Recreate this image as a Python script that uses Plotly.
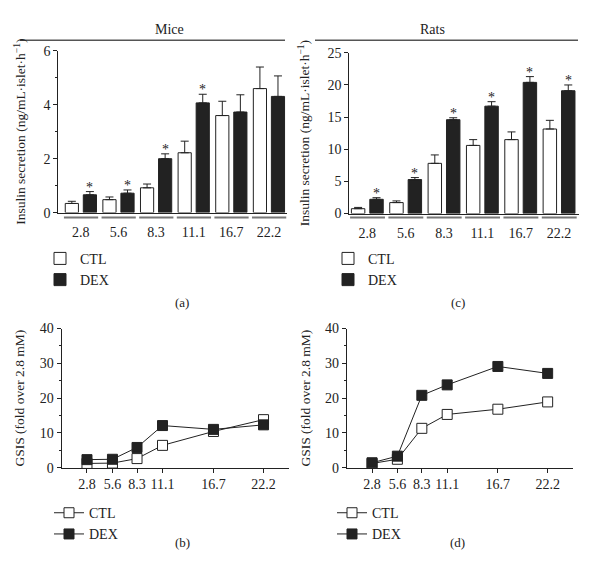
import plotly.graph_objects as go

conc = ["2.8", "5.6", "8.3", "11.1", "16.7", "22.2"]
conc_num = [2.8, 5.6, 8.3, 11.1, 16.7, 22.2]

mice_ctl = [0.34, 0.48, 0.92, 2.22, 3.60, 4.60]
mice_ctl_err = [0.08, 0.10, 0.14, 0.43, 0.53, 0.80]
mice_dex = [0.66, 0.72, 2.00, 4.07, 3.73, 4.31]
mice_dex_err = [0.12, 0.12, 0.18, 0.32, 0.64, 0.76]
mice_sig = [True, True, True, True, False, False]

rats_ctl = [0.76, 1.71, 7.81, 10.6, 11.5, 13.15]
rats_ctl_err = [0.20, 0.26, 1.31, 0.9, 1.2, 1.35]
rats_dex = [2.22, 5.29, 14.6, 16.7, 20.4, 19.1]
rats_dex_err = [0.25, 0.31, 0.3, 0.7, 0.9, 0.9]
rats_sig = [True, True, True, True, True, True]

gsis_mice_ctl = [1.2, 1.3, 2.6, 6.4, 10.4, 13.8]
gsis_mice_dex = [2.3, 2.4, 5.8, 12.1, 11.0, 12.3]
gsis_rats_ctl = [1.2, 2.4, 11.3, 15.3, 16.8, 18.9]
gsis_rats_dex = [1.4, 3.3, 20.8, 23.8, 29.1, 27.1]

FONT = "Liberation Serif"
INK = "#222222"
W, H = 600, 587


def px_x(p):
    return p / W


def px_y(p):
    return 1 - p / H


fig = go.Figure()

# ---- bar panels ----
bar_panels = [
    ("x", "y", mice_ctl, mice_ctl_err, mice_dex, mice_dex_err, mice_sig, "legend"),
    ("x2", "y2", rats_ctl, rats_ctl_err, rats_dex, rats_dex_err, rats_sig, "legend2"),
]
annotations = []
shapes = []
for xa, ya, ctl, ctle, dex, dexe, sig, lg in bar_panels:
    fig.add_trace(go.Bar(
        x=conc, y=ctl, name="CTL", xaxis=xa, yaxis=ya, legend=lg,
        marker=dict(color="white", line=dict(color=INK, width=1)),
        error_y=dict(type="data", symmetric=False, array=ctle, arrayminus=[0] * 6,
                     color=INK, thickness=1, width=4),
    ))
    fig.add_trace(go.Bar(
        x=conc, y=dex, name="DEX", xaxis=xa, yaxis=ya, legend=lg,
        marker=dict(color=INK, line=dict(color=INK, width=1)),
        error_y=dict(type="data", symmetric=False, array=dexe, arrayminus=[0] * 6,
                     color=INK, thickness=1, width=4),
    ))
    for i, (v, e, s) in enumerate(zip(dex, dexe, sig)):
        if s:
            annotations.append(dict(
                x=i + 0.24, y=v + e, xref=xa, yref=ya, text="*", showarrow=False,
                yanchor="bottom", yshift=-5, font=dict(family=FONT, size=14, color=INK)))
    for i in range(len(conc)):
        shapes.append(dict(type="line", xref=xa, yref="paper", x0=i - 0.45, x1=i + 0.46,
                           y0=px_y(216), y1=px_y(216), line=dict(color="#777777", width=2)))

# ---- line panels ----
line_panels = [
    ("x3", "y3", gsis_mice_ctl, gsis_mice_dex, "legend3"),
    ("x4", "y4", gsis_rats_ctl, gsis_rats_dex, "legend4"),
]
for xa, ya, ctl, dex, lg in line_panels:
    fig.add_trace(go.Scatter(
        x=conc_num, y=ctl, name="CTL", xaxis=xa, yaxis=ya, legend=lg, mode="lines+markers",
        cliponaxis=False,
        line=dict(color=INK, width=1),
        marker=dict(symbol="square", size=10, color="white", line=dict(color=INK, width=1)),
    ))
    fig.add_trace(go.Scatter(
        x=conc_num, y=dex, name="DEX", xaxis=xa, yaxis=ya, legend=lg, mode="lines+markers",
        cliponaxis=False,
        line=dict(color=INK, width=1),
        marker=dict(symbol="square", size=10, color=INK, line=dict(color=INK, width=1)),
    ))

tickfont = dict(family=FONT, size=14, color=INK)
titlefont = dict(family=FONT, size=13.5, color=INK)

bar_y_common = dict(showline=True, linecolor=INK, linewidth=1, ticks="outside", ticklen=4,
                    tickcolor=INK, showgrid=False, zeroline=False, tickfont=tickfont,
                    title=dict(text="Insulin secretion (ng/mL·islet·h<sup>−1</sup>)",
                               font=titlefont, standoff=14))
bar_x_common = dict(type="category", showline=True, linecolor=INK, linewidth=1, ticks="",
                    showgrid=False, tickfont=tickfont, ticklabelstandoff=7)

line_y_common = dict(showline=True, linecolor=INK, linewidth=1, ticks="outside", ticklen=4,
                     tickcolor=INK, showgrid=False, zeroline=False, tickfont=tickfont,
                     range=[0, 40], dtick=10,
                     minor=dict(ticks="outside", ticklen=2, dtick=5, tickcolor=INK),
                     title=dict(text="GSIS (fold over 2.8 mM)", font=titlefont, standoff=11))
line_x_common = dict(showline=True, linecolor=INK, linewidth=1, ticks="outside", ticklen=4,
                     tickcolor=INK, showgrid=False, zeroline=False, tickfont=tickfont,
                     range=[0, 25], tickvals=conc_num, ticktext=conc)

fig.update_layout(
    width=W, height=H, margin=dict(l=0, r=0, t=0, b=0),
    paper_bgcolor="white", plot_bgcolor="white",
    barmode="group", bargap=0.04, bargroupgap=0.27,
    font=dict(family=FONT, color=INK),
    hovermode=False,
    xaxis=dict(domain=[px_x(58.3), px_x(287)], anchor="y", range=[-0.6, 5.48], **bar_x_common),
    yaxis=dict(domain=[px_y(211), px_y(45)], anchor="x", range=[0, 6], dtick=2,
               minor=dict(ticks="outside", ticklen=2, dtick=1, tickcolor=INK), **bar_y_common),
    xaxis2=dict(domain=[px_x(349.3), px_x(579)], anchor="y2", range=[-0.47, 5.52], **bar_x_common),
    yaxis2=dict(domain=[px_y(212), px_y(47)], anchor="x2", range=[0, 25], dtick=5, **bar_y_common),
    xaxis3=dict(domain=[px_x(61.5), px_x(289)], anchor="y3", **line_x_common),
    yaxis3=dict(domain=[px_y(472.7), px_y(330)], anchor="x3", **line_y_common),
    xaxis4=dict(domain=[px_x(346.7), px_x(573)], anchor="y4", **line_x_common),
    yaxis4=dict(domain=[px_y(472.7), px_y(330)], anchor="x4", **line_y_common),
)

leg_common = dict(font=dict(family=FONT, size=14, color=INK), bgcolor="rgba(0,0,0,0)",
                  xanchor="left", yanchor="top", itemwidth=30, tracegroupgap=0)
fig.update_layout(
    legend=dict(x=px_x(40), y=px_y(242), **leg_common),
    legend2=dict(x=px_x(328), y=px_y(242), **leg_common),
    legend3=dict(x=px_x(49), y=px_y(503), **leg_common),
    legend4=dict(x=px_x(332), y=px_y(503), **leg_common),
)

# headers
for txt, x0, x1 in [("Mice", 20, 285), ("Rats", 315, 578)]:
    shapes.append(dict(type="line", xref="paper", yref="paper", x0=px_x(x0), x1=px_x(x1),
                       y0=px_y(34), y1=px_y(34), line=dict(color="#555555", width=1.5)))
    annotations.append(dict(x=px_x((x0 + x1) / 2), y=px_y(34), xref="paper", yref="paper",
                            text=txt, showarrow=False, yanchor="bottom", yshift=1,
                            font=dict(family=FONT, size=14, color=INK)))

for txt, x, y in [("(a)", 173, 303), ("(c)", 467, 303), ("(b)", 173, 559), ("(d)", 467, 559)]:
    annotations.append(dict(x=px_x(x), y=px_y(y), xref="paper", yref="paper", text=txt,
                            showarrow=False, font=dict(family=FONT, size=13, color=INK)))

fig.update_layout(annotations=annotations, shapes=shapes)

fig.write_html("out.html", config={"displayModeBar": False},
               post_script="document.body.style.margin='0';document.body.style.overflow='hidden';")
